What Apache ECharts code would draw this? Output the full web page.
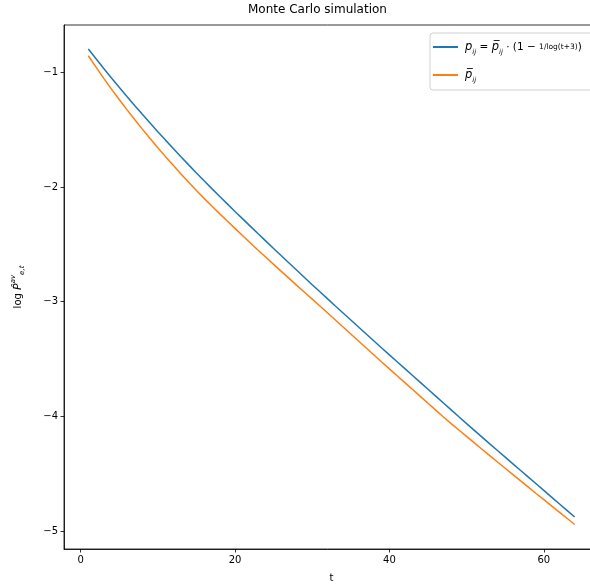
<!DOCTYPE html>
<html>
<head>
<meta charset="utf-8">
<script src="https://cdn.jsdelivr.net/npm/echarts@6/dist/echarts.min.js"></script>
<style>
  html, body { margin: 0; padding: 0; background: #fff; }
  #chart { width: 590px; height: 586px; }
</style>
</head>
<body>
<div id="chart"></div>
<script>
var chartTitle = 'Monte Carlo simulation';
var xName = 't';
var seriesNames = ['p_ij = p̄_ij · (1 − 1/log(t+3))', 'p̄_ij'];
var tValues = [1,2,3,4,5,6,7,8,9,10,11,12,13,14,15,16,17,18,19,20,21,22,23,24,25,26,27,28,29,30,31,32,
               33,34,35,36,37,38,39,40,41,42,43,44,45,46,47,48,49,50,51,52,53,54,55,56,57,58,59,60,61,62,63,64];
var blueValues = [-0.797,-0.882,-0.966,-1.049,-1.130,-1.210,-1.289,-1.366,-1.442,-1.517,-1.591,-1.664,-1.736,-1.807,-1.877,-1.946,
                  -2.014,-2.081,-2.147,-2.213,-2.278,-2.343,-2.408,-2.472,-2.536,-2.600,-2.663,-2.726,-2.789,-2.852,-2.914,-2.976,
                  -3.038,-3.099,-3.160,-3.221,-3.282,-3.343,-3.404,-3.464,-3.524,-3.584,-3.644,-3.704,-3.764,-3.824,-3.884,-3.944,
                  -4.004,-4.063,-4.122,-4.181,-4.240,-4.298,-4.356,-4.414,-4.472,-4.530,-4.588,-4.646,-4.704,-4.762,-4.820,-4.878];
var orangeValues = [-0.855,-0.955,-1.052,-1.146,-1.237,-1.325,-1.411,-1.495,-1.577,-1.657,-1.735,-1.811,-1.886,-1.959,-2.031,-2.099,
                    -2.166,-2.232,-2.297,-2.361,-2.425,-2.488,-2.551,-2.613,-2.675,-2.736,-2.797,-2.858,-2.918,-2.978,-3.038,-3.099,
                    -3.160,-3.221,-3.282,-3.343,-3.404,-3.465,-3.526,-3.586,-3.646,-3.706,-3.766,-3.826,-3.886,-3.946,-4.006,-4.063,
                    -4.119,-4.175,-4.231,-4.287,-4.343,-4.398,-4.453,-4.508,-4.563,-4.618,-4.673,-4.727,-4.781,-4.835,-4.889,-4.943];
var xTicks = [0, 20, 40, 60];
var yTicks = [-5, -4, -3, -2, -1];
var xRange = [-2.15, 67.15];
var yRange = [-5.157, -0.587];
var colors = ['#1f77b4', '#ff7f0e'];

function pairs(xs, ys) { return xs.map(function (x, i) { return [x, ys[i]]; }); }

var FONT = 'DejaVu Sans';
var chart = echarts.init(document.getElementById('chart'), null, { renderer: 'canvas' });
var tickStyle = { show: true, length: 3.5, inside: false, lineStyle: { color: '#000', width: 0.8 } };

chart.setOption({
  animation: false,
  backgroundColor: '#fff',
  title: {
    text: chartTitle, left: 248, top: 4, padding: 0,
    textStyle: { fontFamily: FONT, fontSize: 12, fontWeight: 'normal', color: '#000' }
  },
  grid: { left: 64, top: 25, width: 535, height: 524, containLabel: false, outerBoundsMode: 'none',
    show: true, borderColor: '#000', borderWidth: 0.8, backgroundColor: 'transparent' },
  legend: {
    orient: 'vertical', left: 430, top: 33,
    padding: [5, 20, 6, 3], itemGap: 10,
    itemWidth: 25, itemHeight: 2, icon: 'rect',
    borderColor: '#d0d0d0', borderWidth: 1, borderRadius: 3, backgroundColor: 'rgba(255,255,255,0.8)',
    data: seriesNames,
    formatter: function (name) {
      if (name === seriesNames[0]) {
        return '{it|p}{sub|ij}{n| = }{it|p̅}{sub|ij}{n| · (1 − }{fr|1/log(t+3)}{n|)}';
      }
      return '{it|p̅}{sub|ij}';
    },
    textStyle: {
      fontFamily: FONT, fontSize: 10, color: '#000', lineHeight: 18, padding: [0, 0, 0, 2],
      rich: {
        n: { fontFamily: FONT, fontSize: 10.5, color: '#000' },
        it: { fontFamily: FONT, fontStyle: 'italic', fontSize: 11.5, color: '#000' },
        sub: { fontFamily: FONT, fontStyle: 'italic', fontSize: 7, color: '#000', verticalAlign: 'bottom', lineHeight: 10 },
        fr: { fontFamily: FONT, fontSize: 7.5, color: '#000' }
      }
    }
  },
  xAxis: {
    type: 'value', min: xRange[0], max: xRange[1],
    name: xName, nameLocation: 'middle', nameGap: 24,
    nameTextStyle: { fontFamily: FONT, fontSize: 10, color: '#000' },
    axisLine: { show: true, onZero: false, lineStyle: { color: '#000', width: 0.8 } },
    axisTick: Object.assign({ customValues: xTicks }, tickStyle),
    axisLabel: { customValues: xTicks, margin: 6, fontFamily: FONT, fontSize: 10, color: '#000',
      formatter: function (v) { return String(v).replace('-', '−'); } },
    splitLine: { show: false }
  },
  yAxis: {
    type: 'value', min: yRange[0], max: yRange[1],
    name: 'log {it|P̂}{sup|av}{sub|e,t}', nameLocation: 'middle', nameGap: 38, nameRotate: 90,
    nameTextStyle: {
      fontFamily: FONT, fontSize: 10, color: '#000', lineHeight: 16,
      rich: {
        it: { fontFamily: FONT, fontStyle: 'italic', fontSize: 11, color: '#000' },
        sup: { fontFamily: FONT, fontStyle: 'italic', fontSize: 7, color: '#000', verticalAlign: 'top', lineHeight: 8 },
        sub: { fontFamily: FONT, fontStyle: 'italic', fontSize: 7, color: '#000', verticalAlign: 'bottom', lineHeight: 8 }
      }
    },
    axisLine: { show: true, onZero: false, lineStyle: { color: '#000', width: 0.8 } },
    axisTick: Object.assign({ customValues: yTicks }, tickStyle),
    axisLabel: { customValues: yTicks, margin: 6, fontFamily: FONT, fontSize: 10, color: '#000',
      formatter: function (v) { return String(v).replace('-', '−'); } },
    splitLine: { show: false }
  },
  series: [
    { name: seriesNames[0], type: 'line', data: pairs(tValues, blueValues), showSymbol: false, symbol: 'none',
      lineStyle: { color: colors[0], width: 1.5 }, itemStyle: { color: colors[0] } },
    { name: seriesNames[1], type: 'line', data: pairs(tValues, orangeValues), showSymbol: false, symbol: 'none',
      lineStyle: { color: colors[1], width: 1.5 }, itemStyle: { color: colors[1] } }
  ]
});
</script>
</body>
</html>
